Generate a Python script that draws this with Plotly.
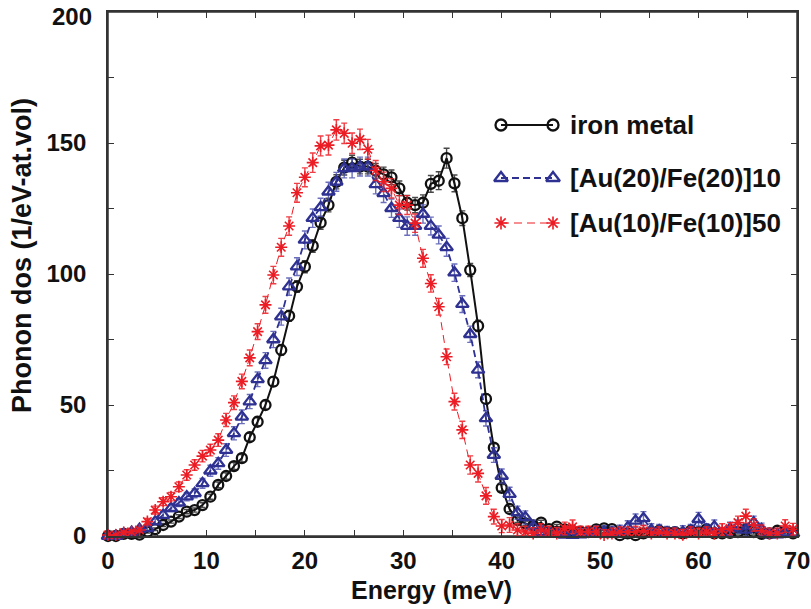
import plotly.graph_objects as go

# ---------------- data ----------------
STEP = 0.8
N = 88
energy = [round(STEP * i, 2) for i in range(N)]

iron = [0, 0, 0.8, 0.8, 0.5, 1.6, 2.6, 4.2, 5.5, 7.4,
        9.3, 9.9, 11.8, 15.0, 19.5, 22.9, 26.7, 29.7, 37.7, 43.6,
        50.0, 58.9, 71.0, 84.0, 95.2, 102.8, 110.7, 119.6, 126.3, 135.2,
        140.6, 142.5, 141.0, 141.0, 139.4, 138.0, 136.9, 132.7, 127.2, 126.3,
        127.2, 134.4, 135.6, 144.2, 134.6, 121.3, 101.5, 80.2, 52.3, 33.7,
        18.4, 10.3, 6.1, 4.8, 4.0, 5.1, 2.6, 3.6, 2.5, 2.0,
        1.7, 1.5, 2.5, 2.9, 2.6, 0.3, 1.0, 0.3, 1.0, 1.5,
        2.0, 1.5, 1.5, 1.0, 2.0, 1.5, 2.5, 1.0, 1.0, 1.2,
        1.5, 2.5, 1.5, 0.8, 1.0, 2.0, 1.5, 1.0]
iron_err = [0.3, 0.3, 0.4, 0.4, 0.4, 0.5, 0.5, 0.6, 0.6, 0.7,
            0.8, 0.8, 0.9, 1.0, 1.1, 1.2, 1.3, 1.4, 1.5, 1.6,
            1.7, 1.8, 2.0, 2.1, 2.2, 2.3, 2.4, 2.5, 2.6, 2.7,
            2.8, 2.8, 2.8, 2.8, 2.8, 2.8, 2.8, 2.8, 2.8, 2.9,
            3.0, 3.2, 3.4, 3.8, 3.2, 2.8, 2.5, 2.2, 1.8, 1.5,
            1.2, 1.0, 0.9, 0.9, 0.9, 0.9, 0.8, 0.8, 0.8, 0.8,
            0.8, 0.8, 0.8, 0.8, 0.8, 0.8, 0.8, 0.8, 0.8, 0.8,
            0.8, 0.8, 0.8, 0.8, 0.8, 0.8, 0.8, 0.8, 0.8, 0.8,
            0.8, 0.8, 0.8, 0.8, 0.8, 0.8, 0.8, 0.8]

au20 = [0, 0, 0.8, 1.5, 2.6, 2.9, 5.5, 8.0, 10.6, 12.7,
        15.0, 16.3, 20.1, 24.9, 27.7, 32.8, 39.2, 45.5, 51.3, 59.8,
        67.0, 75.0, 83.7, 95.2, 102.8, 113.0, 121.3, 125.4, 131.4, 135.2,
        140.3, 140.3, 141.0, 141.0, 134.2, 130.8, 125.1, 121.3, 118.3, 118.3,
        122.9, 118.3, 114.9, 110.2, 100.5, 88.5, 77.0, 63.4, 44.9, 30.9,
        22.9, 16.0, 8.9, 7.1, 3.6, 1.5, 1.0, 0.8, 0.4, 0.3,
        0.5, 1.0, 1.5, 1.5, 1.2, 1.7, 3.3, 5.8, 6.7, 2.3,
        2.0, 1.2, 1.0, 1.5, 2.0, 6.4, 2.3, 3.6, 0.8, 2.8,
        3.6, 2.3, 5.1, 2.5, 0.5, 0.5, 1.0, 1.0]
au20_err = [0.4, 0.4, 0.5, 0.6, 0.7, 0.8, 1.0, 1.2, 1.3, 1.5,
            1.6, 1.7, 1.9, 2.1, 2.2, 2.4, 2.5, 2.6, 2.7, 2.8,
            3.0, 3.1, 3.2, 3.3, 3.4, 3.4, 3.5, 3.5, 3.6, 3.6,
            3.6, 3.6, 3.6, 3.6, 3.6, 3.5, 3.5, 3.5, 3.5, 3.5,
            3.5, 3.4, 3.4, 3.4, 3.3, 3.2, 3.1, 3.0, 2.9, 2.8,
            2.7, 2.6, 2.5, 2.5, 2.4, 2.4, 2.4, 2.4, 2.4, 2.4,
            2.4, 2.4, 2.4, 2.4, 2.4, 2.4, 2.5, 2.6, 2.6, 2.4,
            2.4, 2.4, 2.4, 2.4, 2.4, 2.6, 2.4, 2.5, 2.4, 2.5,
            2.5, 2.4, 2.5, 2.4, 2.4, 2.4, 2.4, 2.4]

au10 = [0.4, 0.4, 1.3, 1.6, 2.3, 5.5, 9.9, 13.1, 15.0, 18.8,
        23.3, 27.1, 30.5, 32.8, 36.6, 44.3, 50.9, 59.0, 68.0, 78.0,
        88.2, 99.6, 110.2, 118.3, 131.0, 136.9, 142.5, 148.9, 149.2, 155.0,
        153.7, 149.9, 151.4, 147.6, 139.5, 135.2, 132.7, 126.3, 126.3, 119.4,
        106.0, 96.4, 87.5, 68.4, 51.3, 40.5, 27.1, 23.9, 15.3, 7.4,
        3.8, 4.2, 2.3, 1.5, 1.0, 2.3, 1.5, 1.0, 2.9, 3.5,
        1.5, 1.7, 1.5, 0.4, 1.0, 1.5, 1.5, 1.5, 2.0, 1.0,
        1.5, 1.0, 1.0, 0.5, 1.5, 1.0, 1.5, 1.0, 2.5, 2.8,
        5.1, 7.6, 4.2, 2.0, 1.0, 1.0, 3.8, 2.6]
au10_err = [0.5, 0.5, 0.6, 0.7, 0.8, 1.2, 1.5, 1.5, 1.6, 1.8,
            2.0, 2.0, 2.2, 2.2, 2.4, 2.5, 2.6, 2.8, 3.0, 3.0,
            3.2, 3.3, 3.4, 3.5, 3.6, 3.6, 3.7, 3.8, 3.8, 3.9,
            3.9, 3.9, 3.9, 3.8, 3.8, 3.7, 3.7, 3.6, 3.6, 3.5,
            3.4, 3.3, 3.2, 3.0, 3.2, 3.3, 3.5, 3.3, 3.2, 2.8,
            2.5, 2.8, 2.4, 2.2, 2.2, 2.4, 2.2, 2.3, 2.4, 2.6,
            2.2, 2.0, 2.2, 2.0, 2.0, 2.0, 2.0, 2.2, 2.0, 2.0,
            2.0, 2.0, 2.0, 2.0, 2.0, 2.0, 2.0, 2.0, 2.2, 2.3,
            2.5, 2.6, 2.4, 2.2, 2.0, 2.0, 2.4, 2.2]

labels = ["iron metal", "[Au(20)/Fe(20)]10", "[Au(10)/Fe(10)]50"]
x_ticks = [0, 10, 20, 30, 40, 50, 60, 70]
y_ticks = [0, 50, 100, 150]
y_top_label = "200"

# ---------------- styles ----------------
BLACK = "#111111"
BLUE = "#2e3192"
RED = "#ec1c24"
FONT = "Liberation Sans, Arial, Helvetica, sans-serif"

# plot-area pixel geometry (811 x 609 canvas)
L, R, T, B = 108, 797, 12, 536


def px_x(p):
    return (p - L) / (R - L)


def px_y(p):
    return (B - p) / (B - T)


styles = [
    dict(color=BLACK, dash="solid", lw=2.0, sym="circle-open", size=10, mlw=2.3, ecol="rgba(40,40,40,0.85)"),
    dict(color=BLUE, dash="7px,4px", lw=1.8, sym="triangle-up-open", size=11, mlw=2.3, ecol="rgba(70,75,170,0.8)"),
    dict(color=RED, dash="8px,5px", lw=1.0, sym="asterisk-open", size=10, mlw=1.6, ecol="rgba(236,28,36,0.85)"),
]

fig = go.Figure()
for ys, es, st, name in zip([iron, au20, au10], [iron_err, au20_err, au10_err], styles, labels):
    fig.add_trace(go.Scatter(
        x=energy, y=ys, name=name, mode="lines+markers",
        line=dict(color=st["color"], width=st["lw"], dash=st["dash"]),
        marker=dict(symbol=st["sym"], size=st["size"], color=st["color"],
                    line=dict(color=st["color"], width=st["mlw"])),
        error_y=dict(type="data", array=es, visible=True, color=st["ecol"],
                     thickness=1.4, width=3),
        cliponaxis=False, showlegend=False,
    ))

# custom legend samples (marker — line — marker), on an overlay pixel axis
leg_y = [125, 178, 223]
leg_x = [501, 553]
for st, yy in zip(styles, leg_y):
    fig.add_trace(go.Scatter(
        x=leg_x, y=[yy, yy], mode="lines+markers", xaxis="x2", yaxis="y2",
        line=dict(color=st["color"], width=st["lw"], dash=st["dash"]),
        marker=dict(symbol=st["sym"], size=st["size"] + 1, color=st["color"],
                    line=dict(color=st["color"], width=st["mlw"])),
        showlegend=False, hoverinfo="skip", cliponaxis=False,
    ))

annotations = []
for lab, yy in zip(labels, leg_y):
    annotations.append(dict(
        x=px_x(568), y=px_y(yy), xref="paper", yref="paper", text=lab, showarrow=False,
        xanchor="left", yanchor="middle",
        font=dict(family=FONT, size=26, color="#111111", weight="bold")))

# top y tick label, nudged down so it stays inside the canvas (as in the reference)
annotations.append(dict(
    x=px_x(94), y=px_y(17), xref="paper", yref="paper", text=y_top_label, showarrow=False,
    xanchor="right", yanchor="middle",
    font=dict(family=FONT, size=24, color="#111111", weight="bold")))

annotations.append(dict(
    x=px_x(431), y=px_y(590), xref="paper", yref="paper",
    text="Energy (meV)", showarrow=False, xanchor="center", yanchor="middle",
    font=dict(family=FONT, size=25, color="#111111", weight="bold")))
annotations.append(dict(
    x=px_x(22), y=px_y(256), xref="paper", yref="paper",
    text="Phonon dos (1/eV-at.vol)", textangle=-90, showarrow=False,
    xanchor="center", yanchor="middle",
    font=dict(family=FONT, size=27, color="#111111", weight="bold")))

axis_common = dict(
    showline=True, linecolor="#333333", linewidth=1.5, mirror="ticks",
    ticks="inside", ticklen=6, tickwidth=1.2, tickcolor="#333333",
    showgrid=False, zeroline=False, automargin=False,
    ticklabeloverflow="allow",
    tickfont=dict(family=FONT, size=24, color="#111111", weight="bold"),
)

fig.update_layout(
    width=811, height=609,
    margin=dict(l=L, r=811 - R, t=T, b=609 - B, autoexpand=False),
    paper_bgcolor="white", plot_bgcolor="white",
    xaxis=dict(range=[0, 70], tickvals=x_ticks, ticklabelstandoff=2,
               minor=dict(dtick=5, ticks="inside", ticklen=6, tickcolor="#333333"),
               **axis_common),
    yaxis=dict(range=[0, 200], tickvals=y_ticks, ticklabelstandoff=15,
               minor=dict(dtick=25, ticks="inside", ticklen=6, tickcolor="#333333"),
               **axis_common),
    xaxis2=dict(range=[L, R], overlaying="x", visible=False, fixedrange=True),
    yaxis2=dict(range=[B, T], overlaying="y", visible=False, fixedrange=True),
    shapes=[dict(type="rect", xref="paper", yref="paper", x0=0, x1=1, y0=0, y1=1,
                 line=dict(color="#333333", width=1.5), layer="below")],
    annotations=annotations,
    showlegend=False,
)

fig.write_html("out.html")
